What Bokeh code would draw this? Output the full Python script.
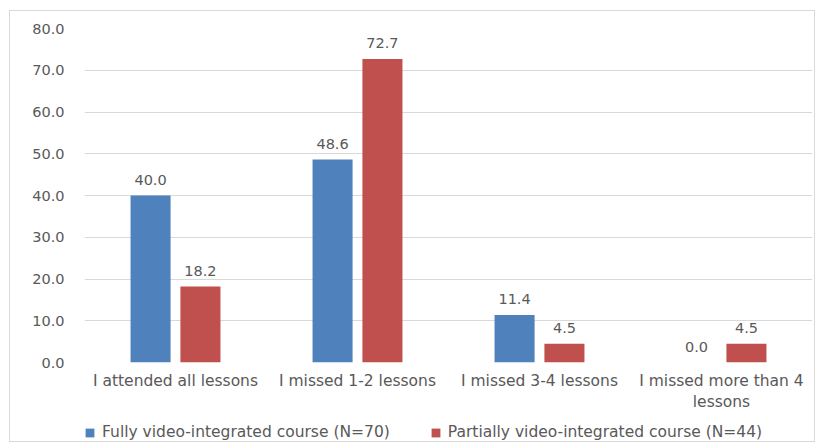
from bokeh.plotting import figure
from bokeh.layouts import column
from bokeh.models import ColumnDataSource, FixedTicker, Legend, LegendItem, Range1d
from bokeh.core.properties import value
from bokeh.embed import file_html
from bokeh.resources import INLINE

categories = ["I attended all lessons", "I missed 1-2 lessons", "I missed 3-4 lessons",
              "I missed more than 4\nlessons"]
fully = [40.0, 48.6, 11.4, 0.0]
partially = [18.2, 72.7, 4.5, 4.5]
series_names = ["Fully video-integrated course (N=70)", "Partially video-integrated course (N=44)"]
y_ticks = [0, 10, 20, 30, 40, 50, 60, 70, 80]

BLUE = "#4f81bd"
RED = "#c0504d"
TEXT = "#595959"
FONT = "DejaVu Sans"

centers = [i + 0.5 for i in range(len(categories))]
offset = 0.137
bar_w = 0.22

src_a = ColumnDataSource(dict(x=[c - offset for c in centers], top=fully,
                              label=[f"{v:.1f}" for v in fully]))
src_b = ColumnDataSource(dict(x=[c + offset for c in centers], top=partially,
                              label=[f"{v:.1f}" for v in partially]))

# --- main bar chart ---
p = figure(frame_width=728, frame_height=334, output_backend="svg", toolbar_location=None,
           x_range=Range1d(0, len(categories)), y_range=Range1d(0, 80),
           min_border_left=74, min_border_right=2, min_border_top=17, min_border_bottom=0)
p.outline_line_color = None

p.vbar(x="x", top="top", width=bar_w, source=src_a, fill_color=BLUE, line_color=None)
p.vbar(x="x", top="top", width=bar_w, source=src_b, fill_color=RED, line_color=None)

for src in (src_a, src_b):
    p.text(x="x", y="top", text="label", source=src, text_align="center",
           text_baseline="bottom", y_offset=-11, text_font_size="14.5px",
           text_color=TEXT, text_font=value(FONT))

p.xgrid.grid_line_color = None
p.ygrid.grid_line_color = "#d9d9d9"
p.ygrid.grid_line_width = 1

p.yaxis.ticker = FixedTicker(ticks=y_ticks)
p.yaxis.major_label_overrides = {t: f"{t:.1f}" for t in y_ticks}
p.xaxis.ticker = FixedTicker(ticks=centers)
p.xaxis.major_label_overrides = {c: name for c, name in zip(centers, categories)}

for ax in (p.xaxis[0], p.yaxis[0]):
    ax.axis_line_color = None
    ax.major_tick_line_color = None
    ax.minor_tick_line_color = None
    ax.major_tick_out = 0
    ax.major_tick_in = 0
    ax.minor_tick_out = 0
    ax.minor_tick_in = 0
    ax.axis_label_standoff = 0
    ax.major_label_text_font = FONT
    ax.major_label_text_color = TEXT
p.yaxis.major_label_text_font_size = "14.5px"
p.xaxis.major_label_text_font_size = "15.5px"
p.yaxis.major_label_standoff = 20
p.xaxis.major_label_standoff = 9

# --- legend strip below the chart (its key bars sit outside the visible range) ---
leg = figure(width=804, height=27, output_backend="svg", toolbar_location=None,
             x_range=Range1d(0, len(categories)), y_range=Range1d(200, 201),
             x_axis_type=None, y_axis_type=None,
             min_border_left=0, min_border_right=0, min_border_top=0, min_border_bottom=0)
leg.outline_line_color = None
leg.grid.visible = False
k_a = leg.vbar(x="x", top="top", width=bar_w, source=src_a, fill_color=BLUE, line_color=None)
k_b = leg.vbar(x="x", top="top", width=bar_w, source=src_b, fill_color=RED, line_color=None)

legend = Legend(items=[LegendItem(label=series_names[0], renderers=[k_a]),
                       LegendItem(label=series_names[1], renderers=[k_b])],
                orientation="horizontal", location=(0, 0),
                label_text_font=FONT, label_text_font_size="15.5px",
                label_text_color=TEXT, glyph_width=11, glyph_height=11,
                spacing=40, label_standoff=7, border_line_color=None,
                background_fill_alpha=0, margin=0, padding=0)
leg.add_layout(legend, "center")

layout = column(p, leg, spacing=0)
layout.margin = (10, 0, 0, 9)
layout.styles = {"border": "1px solid #d9d9d9"}

open("out.html", "w").write(file_html(layout, INLINE))
